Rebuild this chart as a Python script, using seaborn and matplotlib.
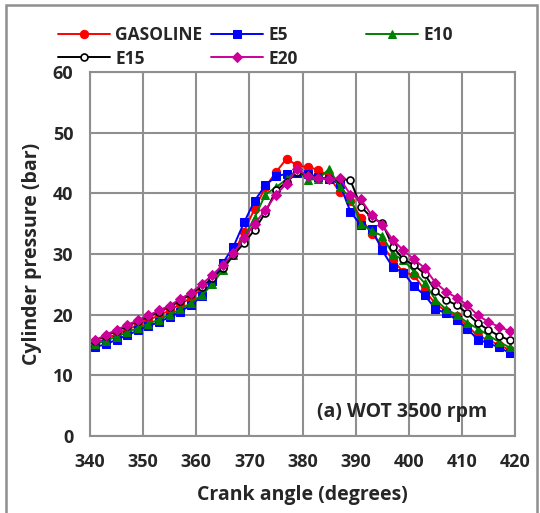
import numpy as np
import pandas as pd
import seaborn as sns
import matplotlib.pyplot as plt
from matplotlib.patches import Rectangle

# crank angle (deg) and cylinder pressure (bar)
crank = list(range(339, 422, 2))

gasoline = [14.9, 15.3, 16.0, 16.8, 17.5, 18.3, 19.1, 19.9, 20.7, 21.7, 22.8,
            24.2, 25.8, 27.8, 30.0, 33.7, 37.5, 41.0, 43.5, 45.7, 44.6, 44.3,
            43.9, 42.8, 40.2, 38.8, 36.0, 33.3, 31.5, 29.0, 27.0, 26.5, 24.0,
            21.8, 20.6, 19.7, 18.2, 16.5, 15.8, 15.0, 14.2, 13.5]
e5 = [14.2, 14.7, 15.1, 15.9, 16.6, 17.4, 18.1, 18.8, 19.6, 20.5, 21.6,
      23.0, 25.5, 28.5, 31.2, 35.2, 38.8, 41.3, 42.8, 43.2, 43.3, 43.2,
      42.7, 42.3, 41.6, 37.0, 34.7, 34.2, 30.6, 27.8, 26.9, 24.7, 23.2,
      21.0, 20.2, 19.2, 17.7, 15.9, 15.3, 14.6, 13.7, 13.2]
e10 = [14.8, 15.2, 15.7, 16.4, 17.1, 17.8, 18.5, 19.2, 20.0, 20.9, 21.9,
       23.2, 25.0, 27.4, 29.8, 32.8, 36.0, 39.8, 41.0, 42.3, 43.8, 42.2,
       42.4, 44.0, 41.1, 39.2, 35.0, 33.8, 33.0, 30.0, 29.0, 27.1, 25.2,
       22.5, 20.9, 20.0, 18.7, 17.7, 16.6, 15.5, 14.6, 13.8]
e15 = [15.2, 15.7, 16.5, 17.3, 18.1, 18.9, 19.7, 20.5, 21.3, 22.3, 23.4,
       24.6, 26.0, 27.7, 29.8, 31.8, 34.0, 36.8, 40.5, 41.8, 43.5, 43.0,
       42.6, 42.3, 42.3, 42.2, 37.8, 36.0, 35.1, 31.2, 29.1, 28.2, 26.7,
       23.9, 22.4, 21.6, 20.2, 18.6, 17.5, 16.5, 15.8, 15.0]
e20 = [15.3, 15.8, 16.7, 17.5, 18.3, 19.1, 19.9, 20.7, 21.5, 22.6, 23.6,
       25.0, 26.5, 28.2, 30.1, 32.6, 35.0, 37.2, 39.8, 41.6, 44.0, 42.8,
       42.5, 42.3, 42.5, 39.8, 39.0, 36.4, 34.8, 32.3, 30.6, 29.1, 27.7,
       25.3, 23.8, 22.8, 21.6, 19.9, 18.8, 18.0, 17.3, 16.5]

labels = ["GASOLINE", "E5", "E10", "E15", "E20"]
colors = ["#ff0000", "#0000ff", "#008000", "#000000", "#cc0099"]
markers = ["o", "s", "^", "o", "D"]

sns.set_style("white")
plt.rcParams["font.family"] = ["Open Sans", "DejaVu Sans"]
plt.rcParams["font.weight"] = "bold"

GRID = "#8f8f8f"

fig = plt.figure(figsize=(5.4, 5.13), dpi=100)
ax = fig.add_axes([90 / 540, 77 / 513, 425 / 540, 364 / 513])

series = [gasoline, e5, e10, e15, e20]
handles = []
for lab, vals, c, m in zip(labels, series, colors, markers):
    df = pd.DataFrame({"crank": crank, "p": vals})
    kw = dict(markersize=6, markeredgecolor=c, markerfacecolor=c)
    if lab == "E15":
        kw = dict(markersize=5, markeredgecolor=c, markerfacecolor="white",
                  markeredgewidth=1.2)
    if lab == "E20":
        kw = dict(markersize=5, markeredgecolor=c, markerfacecolor=c)
    sns.lineplot(data=df, x="crank", y="p", ax=ax, color=c, marker=m,
                 linewidth=1.4, label=lab, legend=False, **kw)
    handles.append(ax.lines[-1])

ax.set_xlim(340, 420)
ax.set_ylim(0, 60)
ax.set_xticks(np.arange(340, 421, 10))
ax.set_yticks(np.arange(0, 61, 10))
ax.grid(True, color=GRID, linewidth=1.5)
ax.set_axisbelow(True)
for s in ax.spines.values():
    s.set_color(GRID)
    s.set_linewidth(1.5)
ax.tick_params(axis="both", direction="out", length=7, width=1.5,
               color=GRID, labelsize=13, pad=5)
for t in ax.get_xticklabels() + ax.get_yticklabels():
    t.set_fontweight("bold")

ax.set_xlabel("Crank angle (degrees)", fontsize=14, fontweight="bold",
              labelpad=10)
ax.set_ylabel("Cylinder pressure (bar)", fontsize=14, fontweight="bold",
              labelpad=8)

ax.text(0.935, 0.067, "(a) WOT 3500 rpm", transform=ax.transAxes,
        ha="right", va="center", fontsize=14, fontweight="bold")

# legend in three columns like the spreadsheet layout
cols = [[0, 3], [1, 4], [2]]
xs = [58 / 540, 211 / 540, 366 / 540]
for idx, x0 in zip(cols, xs):
    fig.legend([handles[i] for i in idx], [labels[i] for i in idx],
               loc="upper left", bbox_to_anchor=(x0, 1 - 26 / 513),
               frameon=False, handlelength=3.0,
               handletextpad=0.3, labelspacing=0.32, borderpad=0,
               borderaxespad=0, prop={"weight": "bold", "size": 12.5})

fig.patches.append(Rectangle((6 / 540, -0.05), 531 / 540, 1.05 - 5 / 513,
                             transform=fig.transFigure, fill=False,
                             edgecolor=GRID, linewidth=1.8))

fig.savefig("out.png", dpi=100)
